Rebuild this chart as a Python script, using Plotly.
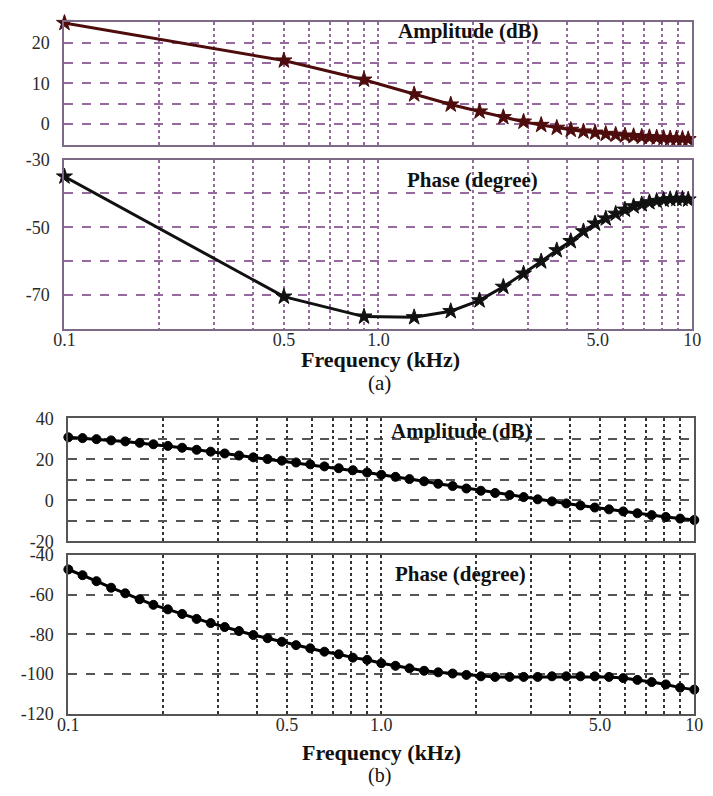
import plotly.graph_objects as go

# ---------------- data ----------------
# (a) measured points, linear steps of 0.4 kHz
freq_a = [0.1, 0.5, 0.9, 1.3, 1.7, 2.1, 2.5, 2.9, 3.3, 3.7, 4.1, 4.5, 4.9,
          5.3, 5.7, 6.1, 6.5, 6.9, 7.3, 7.7, 8.1, 8.5, 8.9, 9.3, 9.7]
amp_a = [24.8, 15.6, 10.9, 7.3, 4.8, 3.1, 1.7, 0.6, -0.2, -0.9, -1.4, -1.8, -2.1,
         -2.4, -2.6, -2.8, -2.95, -3.1, -3.2, -3.3, -3.4, -3.5, -3.55, -3.6, -3.7]
phase_a = [-35.0, -70.5, -76.4, -76.6, -74.8, -71.6, -67.6, -63.7, -60.1, -56.8,
           -54.1, -51.2, -48.9, -47.4, -46.0, -44.8, -43.8, -43.2, -42.6, -42.2,
           -41.9, -41.7, -41.6, -41.6, -41.8]

# (b) log-spaced points
freq_b = [0.1, 0.111, 0.123, 0.137, 0.152, 0.169, 0.187, 0.208, 0.231, 0.257,
          0.285, 0.316, 0.351, 0.390, 0.433, 0.481, 0.534, 0.593, 0.658, 0.731,
          0.811, 0.901, 1.0, 1.11, 1.23, 1.37, 1.52, 1.69, 1.87, 2.08, 2.31,
          2.57, 2.85, 3.16, 3.51, 3.90, 4.33, 4.81, 5.34, 5.93, 6.58, 7.31,
          8.11, 9.01, 10.0]
amp_b = [30.8, 30.4, 29.9, 29.3, 28.8, 28.1, 27.4, 26.6, 25.7, 24.7, 23.8, 22.9,
         21.9, 21.0, 20.2, 19.4, 18.5, 17.6, 16.6, 15.7, 14.7, 13.6, 12.5, 11.5,
         10.4, 9.3, 8.1, 7.0, 5.8, 4.7, 3.6, 2.6, 1.6, 0.5, -0.5, -1.5, -2.5,
         -3.5, -4.4, -5.4, -6.3, -7.2, -8.1, -8.9, -9.6]
phase_b = [-47.3, -50.2, -53.2, -56.5, -59.3, -62.3, -65.1, -67.4, -69.7, -72.2,
           -74.3, -76.3, -78.3, -80.3, -81.9, -83.7, -85.4, -87.0, -88.7, -90.0,
           -91.7, -92.8, -94.5, -95.8, -97.1, -98.3, -99.1, -99.7, -100.4, -101.1,
           -101.4, -101.4, -101.4, -101.4, -101.1, -101.1, -101.1, -101.1, -101.4,
           -102.0, -102.9, -104.0, -105.2, -106.8, -107.8]

x_tickvals = [0.1, 0.5, 1.0, 5.0, 10.0]
x_ticktext = ["0.1", "0.5", "1.0", "5.0", "10"]
x_minor = [0.2, 0.3, 0.4, 0.6, 0.7, 0.8, 0.9, 2, 3, 4, 6, 7, 8, 9]

amp_a_ticks = [0, 10, 20]
amp_a_minor = [5, 15]
ph_a_ticks = [-30, -50, -70]
ph_a_minor = [-40, -60]
amp_b_ticks = [40, 20, 0, -20]
amp_b_minor = [30, 10, -10]
ph_b_ticks = [-40, -60, -80, -100, -120]
ph_b_minor = [-60, -80, -100]

W, H = 713, 796


def px(x):
    return x / W


def py(y):
    return 1 - y / H


SERIF = "Liberation Serif, Times New Roman, serif"
TICKFONT = dict(family=SERIF, size=18, color="#2a2a2a")

fig = go.Figure()


def add(xs, ys, xa, ya, color, symbol, size):
    fig.add_trace(go.Scatter(x=xs, y=ys, mode="lines+markers", xaxis=xa, yaxis=ya,
                             line=dict(color=color, width=3),
                             marker=dict(symbol=symbol, size=size, color=color,
                                         line=dict(color=color, width=1)),
                             cliponaxis=False, showlegend=False))


add(freq_a, amp_a, "x", "y", "#4e0c0c", "star", 12)
add(freq_a, phase_a, "x2", "y2", "#111111", "star", 12)
add(freq_b, amp_b, "x3", "y3", "#000000", "circle", 9)
add(freq_b, phase_b, "x4", "y4", "#000000", "circle", 9)

grid_a = "#96699f"
frame_a = "#7d6a86"
grid_b = "#333333"
grid_b_h = "#555555"
frame_b = "#555555"


def xaxis(dom, anchor, labels, gcol, fcol):
    return dict(type="log", domain=dom, anchor=anchor, range=[-1, 1],
                showline=True, mirror=True, linecolor=fcol, linewidth=2,
                tickvals=x_tickvals, ticktext=x_ticktext,
                showticklabels=labels, tickfont=TICKFONT, ticks="",
                ticklabelstandoff=-6,
                showgrid=True, gridcolor=gcol, griddash="dot", gridwidth=2,
                minor=dict(tickvals=x_minor, showgrid=True, gridcolor=gcol,
                           griddash="dot", gridwidth=2, ticks=""),
                zeroline=False)


def yaxis(dom, anchor, rng, ticks, minor, gcol, fcol):
    return dict(domain=dom, anchor=anchor, range=rng,
                showline=True, mirror=True, linecolor=fcol, linewidth=2,
                tickvals=ticks, ticktext=[str(t) for t in ticks],
                tickfont=TICKFONT, ticks="", ticklabelstandoff=9,
                showgrid=True, gridcolor=gcol, griddash="dash", gridwidth=1.5,
                minor=dict(tickvals=minor, showgrid=True, gridcolor=gcol,
                           griddash="dash", gridwidth=1.5, ticks=""),
                zeroline=False)


xa = [px(55), px(701)]
xb = [px(59), px(703)]

fig.update_layout(
    width=W, height=H,
    margin=dict(l=0, r=0, t=0, b=0),
    paper_bgcolor="white", plot_bgcolor="white",
    xaxis=xaxis(xa, "y", False, grid_a, frame_a),
    yaxis=yaxis([py(138), py(12.5)], "x", [-5, 25], amp_a_ticks, amp_a_minor, grid_a, frame_a),
    xaxis2=xaxis(xa, "y2", True, grid_a, frame_a),
    yaxis2=yaxis([py(327), py(153.5)], "x2", [-80, -30], ph_a_ticks, ph_a_minor, grid_a, frame_a),
    xaxis3=xaxis(xb, "y3", False, grid_b, frame_b),
    yaxis3=yaxis([py(545), py(419)], "x3", [-20, 40], amp_b_ticks, amp_b_minor, grid_b_h, frame_b),
    xaxis4=xaxis(xb, "y4", True, grid_b, frame_b),
    yaxis4=yaxis([py(722), py(559)], "x4", [-120, -40], ph_b_ticks, ph_b_minor, grid_b_h, frame_b),
)

TITLE = dict(family=SERIF, size=21, color="#111")
BIG = dict(family=SERIF, size=22, color="#111")
ann = [
    ("<b>Amplitude (dB)</b>", 471, 22, TITLE),
    ("<b>Phase (degree)</b>", 475, 174, TITLE),
    ("<b>Amplitude (dB)</b>", 464, 432, TITLE),
    ("<b>Phase (degree)</b>", 462, 579, TITLE),
    ("<b>Frequency (kHz)</b>", 380, 359, BIG),
    ("(a)", 379, 383, dict(family=SERIF, size=21, color="#111")),
    ("<b>Frequency (kHz)</b>", 381, 762, BIG),
    ("(b)", 379, 785, dict(family=SERIF, size=20, color="#111")),
]
for text, x, y, f in ann:
    fig.add_annotation(text=text, x=px(x), y=py(y), xref="paper", yref="paper",
                       showarrow=False, font=f, xanchor="center", yanchor="middle")

fig.write_html("out.html")
